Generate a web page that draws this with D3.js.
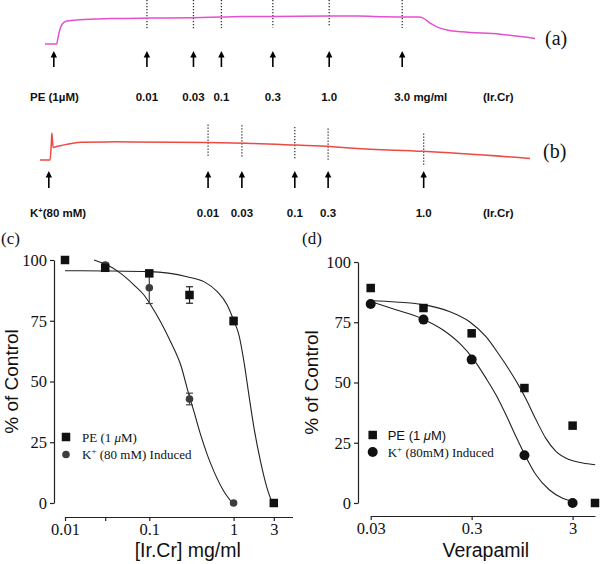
<!DOCTYPE html>
<html><head><meta charset="utf-8">
<script src="https://cdn.jsdelivr.net/npm/d3@7"></script>
<style>body{margin:0;background:#fff}svg{display:block}</style>
</head><body><svg id="chart" width="600" height="564"></svg>
<script>
// ---------- Trace (a): PE-induced contraction, time (a.u.) vs tension (a.u.)
const traceA = [[0,0],[2.4,0],[2.6,0.5],[2.8,1.05],[3.2,1.8],[3.6,2.2],[4.5,2.47],[7,2.6],[13.6,2.72],[21.4,2.78],[30.1,2.82],[35.6,2.88],[40.3,2.94],[46.5,2.95],[58.3,3.0],[63.8,3.0],[69.3,2.92],[76.4,2.88],[77.1,2.8],[78.7,2.2],[80.3,1.75],[82.5,1.45],[85,1.3],[92.9,1.05],[100,0.6]];
const doseTimesA = [1.8,20.8,30.3,36.0,46.5,58.0,72.9];
const doseLabelsA = ["PE (1\u00B5M)","0.01","0.03","0.1","0.3","1.0","3.0 mg/ml"];
// ---------- Trace (b): K+ induced contraction
const traceB = [[0,0],[2.04,0],[2.29,1.35],[2.43,2.5],[2.67,1.15],[3.22,1.23],[4.39,1.35],[8.33,1.65],[15.4,1.68],[34.2,1.62],[42.1,1.55],[52.3,1.38],[59.3,1.25],[64.0,1.08],[78.2,0.8],[100,0.15]];
const doseTimesB = [1.8,34.3,41.2,52.0,58.8,78.3];
const doseLabelsB = ["K+(80 mM)","0.01","0.03","0.1","0.3","1.0"];

// ---------- Panel (c): Ir.Cr concentration-response
const concC = [0.01,0.03,0.1,0.3,1,3];
const peC = [100,96.8,94.5,85.6,74.9,0];
const peErrC = [0,1.5,0,3.4,1.5,0];
const concCK = [0.03,0.1,0.3,1];
const kC = [97.9,88.6,42.8,0];
const kErrC = [1,6.5,2.4,0];
const peFitC = [[0.01,95.6],[0.03,95.5],[0.1,95.2],[0.28,93.1],[0.45,91],[0.64,87],[0.84,81.5],[1.0,75.3],[1.16,69],[1.33,58],[1.52,44.4],[1.75,30.7],[2.09,17],[2.5,6],[2.88,0]];
const kFitC = [[0.0221,100],[0.0318,97.9],[0.0458,94.5],[0.066,89.7],[0.0865,85.6],[0.104,81.5],[0.136,74.6],[0.179,66.4],[0.236,56.8],[0.296,44.4],[0.339,37.6],[0.407,28],[0.488,19.8],[0.586,12.9],[0.769,4.7],[0.966,0]];
const xTicksC = [0.01,0.03,0.1,1,3];
const xTickLabelsC = ["0.01","","0.1","1","3"];
const yTicks = [0,25,50,75,100];

// ---------- Panel (d): Verapamil
const concD = [0.03,0.1,0.3,1,3,5];
const peD = [89.2,80.9,70.4,47.7,32.1,0];
const concDK = [0.03,0.1,0.3,1,3];
const kD = [82.6,76.1,59.5,19.8,0];
const peFitD = [[0.03,83.9],[0.0533,83.4],[0.0982,82.3],[0.18,79.5],[0.284,75.3],[0.416,69],[0.562,61.5],[0.706,55.3],[0.888,48.4],[1.03,43.4],[1.3,34.6],[1.63,26.8],[2.05,21.4],[2.77,18],[3.77,16.6],[5.02,15.9]];
const kFitD = [[0.03,83.6],[0.0533,80.2],[0.0982,76.4],[0.155,71.9],[0.226,66.4],[0.307,60.1],[0.416,51.8],[0.522,44.9],[0.656,36.6],[0.824,27.6],[1.01,20],[1.3,11.7],[1.76,5.5],[2.39,2],[3.0,0.7]];
const xTicksD = [0.03,0.3,3];
const xTickLabelsD = ["0.03","0.3","3"];

const svg = d3.select("#chart");
svg.append("rect").attr("width",600).attr("height",564).attr("fill","#fff");

const SANS = "'Liberation Sans', Arial, sans-serif";
const SERIF = "'Liberation Serif', 'Times New Roman', serif";

// ====== trace helper
function drawTrace(cfg){
  const x = d3.scaleLinear().domain([0,100]).range(cfg.xr);
  const y = d3.scaleLinear().domain(cfg.yd).range(cfg.yr);
  const g = svg.append("g");
  const line = d3.line().x(d=>x(d[0])).y(d=>y(d[1])).curve(d3.curveMonotoneX);
  const interp = t => {
    const i = d3.bisector(d=>d[0]).left(cfg.data, t);
    const a = cfg.data[Math.max(0,i-1)], b = cfg.data[Math.min(cfg.data.length-1,i)];
    if (a[0]===b[0]) return a[1];
    return a[1] + (b[1]-a[1])*(t-a[0])/(b[0]-a[0]);
  };
  cfg.times.slice(1).forEach(t=>{
    const yy = y(interp(t));
    g.append("line").attr("x1",x(t)).attr("x2",x(t))
      .attr("y1",Math.max(0,yy-cfg.dotUp)).attr("y2",yy+cfg.dotDown)
      .attr("stroke","#333").attr("stroke-width",1.3).attr("stroke-dasharray","1.3,1.7");
  });
  g.append("path").datum(cfg.data).attr("d",line).attr("fill","none")
    .attr("stroke",cfg.color).attr("stroke-width",1.5);
  cfg.times.forEach(t=>{
    const xx = x(t);
    g.append("line").attr("x1",xx).attr("x2",xx).attr("y1",cfg.arrowTop+5).attr("y2",cfg.arrowBot)
      .attr("stroke","#000").attr("stroke-width",1.6);
    g.append("path").attr("d",`M${xx},${cfg.arrowTop} L${xx-3.2},${cfg.arrowTop+6.5} L${xx+3.2},${cfg.arrowTop+6.5} Z`).attr("fill","#000");
  });
  cfg.labels.forEach((lab,i)=>{
    const t = g.append("text").attr("y",cfg.labelY)
      .attr("font-family",SANS).attr("font-weight","bold").attr("font-size",11.5).attr("fill","#111");
    if (i===0){
      t.attr("x",30).attr("text-anchor","start");
      if (lab.startsWith("K+")){
        t.append("tspan").text("K");
        t.append("tspan").attr("dy",-4).attr("font-size",7.5).text("+");
        t.append("tspan").attr("dy",4).text(lab.slice(2));
      } else t.text(lab);
    } else if (lab.indexOf("mg/ml")>0){
      t.attr("x",x(cfg.times[i])-8).attr("text-anchor","start").text(lab);
    } else {
      t.attr("x",x(cfg.times[i])).attr("text-anchor","middle").text(lab);
    }
  });
  g.append("text").attr("x",483).attr("y",cfg.labelY).attr("font-family",SANS).attr("font-weight","bold")
    .attr("font-size",11.5).attr("fill","#111").text("(Ir.Cr)");
  g.append("text").attr("x",cfg.tagX).attr("y",cfg.tagY).attr("font-family",SERIF).attr("font-size",20)
    .attr("fill","#111").text(cfg.tag);
}

drawTrace({data:traceA,times:doseTimesA,labels:doseLabelsA,xr:[45,535],yd:[0,3],yr:[44,16],
  color:"#e54fd0",dotUp:20,dotDown:11,arrowTop:51,arrowBot:67,labelY:101,tag:"(a)",tagX:545,tagY:45});
drawTrace({data:traceB,times:doseTimesB,labels:doseLabelsB,xr:[40,530],yd:[0,2.5],yr:[160,133],
  color:"#ec4a43",dotUp:18,dotDown:14,arrowTop:171,arrowBot:188,labelY:217,tag:"(b)",tagX:543,tagY:158});

// ====== dose-response panels
function drawPanel(cfg){
  const x = d3.scaleLog().domain(cfg.xd).range(cfg.xr);
  const y = d3.scaleLinear().domain([0,100]).range(cfg.yr);
  const g = svg.append("g");
  const yAxis = d3.axisLeft(y).tickValues(yTicks).tickSize(4).tickPadding(3).tickSizeOuter(0);
  const ga = g.append("g").attr("transform",`translate(${cfg.yAxisX},0)`).call(yAxis);
  const xAxis = d3.axisBottom(x).tickValues(cfg.xTicks).tickFormat((d,i)=>cfg.xLabels[i]).tickSize(4).tickPadding(2).tickSizeOuter(0);
  const gx = g.append("g").attr("transform",`translate(0,${cfg.xAxisY})`).call(xAxis);
  [ga,gx].forEach(a=>{
    a.select(".domain").attr("stroke","#222").attr("stroke-width",1.2);
    a.selectAll(".tick line").attr("stroke","#222").attr("stroke-width",1.2);
    a.selectAll("text").attr("font-family",SERIF).attr("font-size",16.5).attr("fill","#111");
  });
  g.append("text").attr("transform",`translate(${cfg.yTitleX},${(cfg.yr[0]+cfg.yr[1])/2}) rotate(-90)`)
    .attr("text-anchor","middle").attr("font-family",SANS).attr("font-size",19).attr("fill","#111").text("% of Control");
  g.append("text").attr("x",(cfg.xr[0]+cfg.xr[1])/2+cfg.xTitleShift).attr("y",557).attr("text-anchor","middle")
    .attr("font-family",SANS).attr("font-size",19.5).attr("fill","#111").text(cfg.xTitle);
  g.append("text").attr("x",cfg.tagX).attr("y",244).attr("font-family",SERIF).attr("font-size",17).attr("fill","#111").text(cfg.tag);

  const line = d3.line().x(d=>x(d[0])).y(d=>y(d[1])).curve(d3.curveMonotoneX);
  g.append("path").datum(cfg.peFit).attr("d",line).attr("fill","none").attr("stroke","#222").attr("stroke-width",1.1);
  g.append("path").datum(cfg.kFit).attr("d",line).attr("fill","none").attr("stroke","#222").attr("stroke-width",1.1);

  function err(xs,ys,es,col){
    xs.forEach((c,i)=>{
      const e = es ? es[i] : 0; if(!e) return;
      const xx = x(c), y1 = y(ys[i]+e), y2 = y(ys[i]-e);
      g.append("line").attr("x1",xx).attr("x2",xx).attr("y1",y1).attr("y2",y2).attr("stroke",col).attr("stroke-width",1.2);
      [y1,y2].forEach(yy=>g.append("line").attr("x1",xx-3.5).attr("x2",xx+3.5).attr("y1",yy).attr("y2",yy).attr("stroke",col).attr("stroke-width",1.2));
    });
  }
  err(cfg.kx,cfg.ky,cfg.kErr,"#444");
  err(cfg.px,cfg.py,cfg.pErr,"#222");
  const s = cfg.sq;
  g.selectAll(".ck").data(cfg.kx).enter().append("circle")
    .attr("cx",d=>x(d)).attr("cy",(d,i)=>y(cfg.ky[i])).attr("r",cfg.cr).attr("fill",cfg.cColor);
  g.selectAll(".sq").data(cfg.px).enter().append("rect")
    .attr("x",d=>x(d)-s/2).attr("y",(d,i)=>y(cfg.py[i])-s/2).attr("width",s).attr("height",s).attr("fill","#111");

  const lx = cfg.xr[0]+cfg.legDX, ly = cfg.legY;
  g.append("rect").attr("x",lx-s/2).attr("y",ly-s/2).attr("width",s).attr("height",s).attr("fill","#111");
  g.append("circle").attr("cx",lx).attr("cy",ly+cfg.legGap).attr("r",cfg.cr).attr("fill",cfg.cColor);
  const t1 = g.append("text").attr("x",lx+cfg.legText).attr("y",ly+4.5).attr("font-size",13).attr("fill","#111")
    .attr("font-family",cfg.peSans?SANS:SERIF);
  t1.append("tspan").text("PE (1 ");
  t1.append("tspan").attr("font-style","italic").text("\u03BC");
  t1.append("tspan").text("M)");
  const t2 = g.append("text").attr("x",lx+cfg.legText).attr("y",ly+cfg.legGap+4.5).attr("font-size",13).attr("fill","#111")
    .attr("font-family",SERIF);
  t2.append("tspan").text("K");
  t2.append("tspan").attr("dy",-5).attr("font-size",9).text("+");
  t2.append("tspan").attr("dy",5).text(cfg.kLegend);
}

drawPanel({xd:[0.01,5],xr:[65,292.5],yr:[503,260],yAxisX:54,xAxisY:517,xTicks:xTicksC,xLabels:xTickLabelsC,
  yTitleX:18,xTitle:"[Ir.Cr] mg/ml",xTitleShift:9,tag:"(c)",tagX:1,
  peFit:peFitC,kFit:kFitC,px:concC,py:peC,pErr:peErrC,kx:concCK,ky:kC,kErr:kErrC,
  sq:8.5,cr:3.8,cColor:"#3d3d3d",legDX:1,legY:437,legGap:17.5,legText:16,peSans:false,kLegend:" (80 mM) Induced"});
drawPanel({xd:[0.03,5],xr:[370.7,595],yr:[503,262],yAxisX:358,xAxisY:516,xTicks:xTicksD,xLabels:xTickLabelsD,
  yTitleX:318,xTitle:"Verapamil",xTitleShift:3,tag:"(d)",tagX:302,
  peFit:peFitD,kFit:kFitD,px:concD,py:peD,pErr:null,kx:concDK,ky:kD,kErr:null,
  sq:8.5,cr:5,cColor:"#111",legDX:2,legY:435,legGap:17,legText:15,peSans:true,kLegend:" (80mM) Induced"});
</script></body></html>
